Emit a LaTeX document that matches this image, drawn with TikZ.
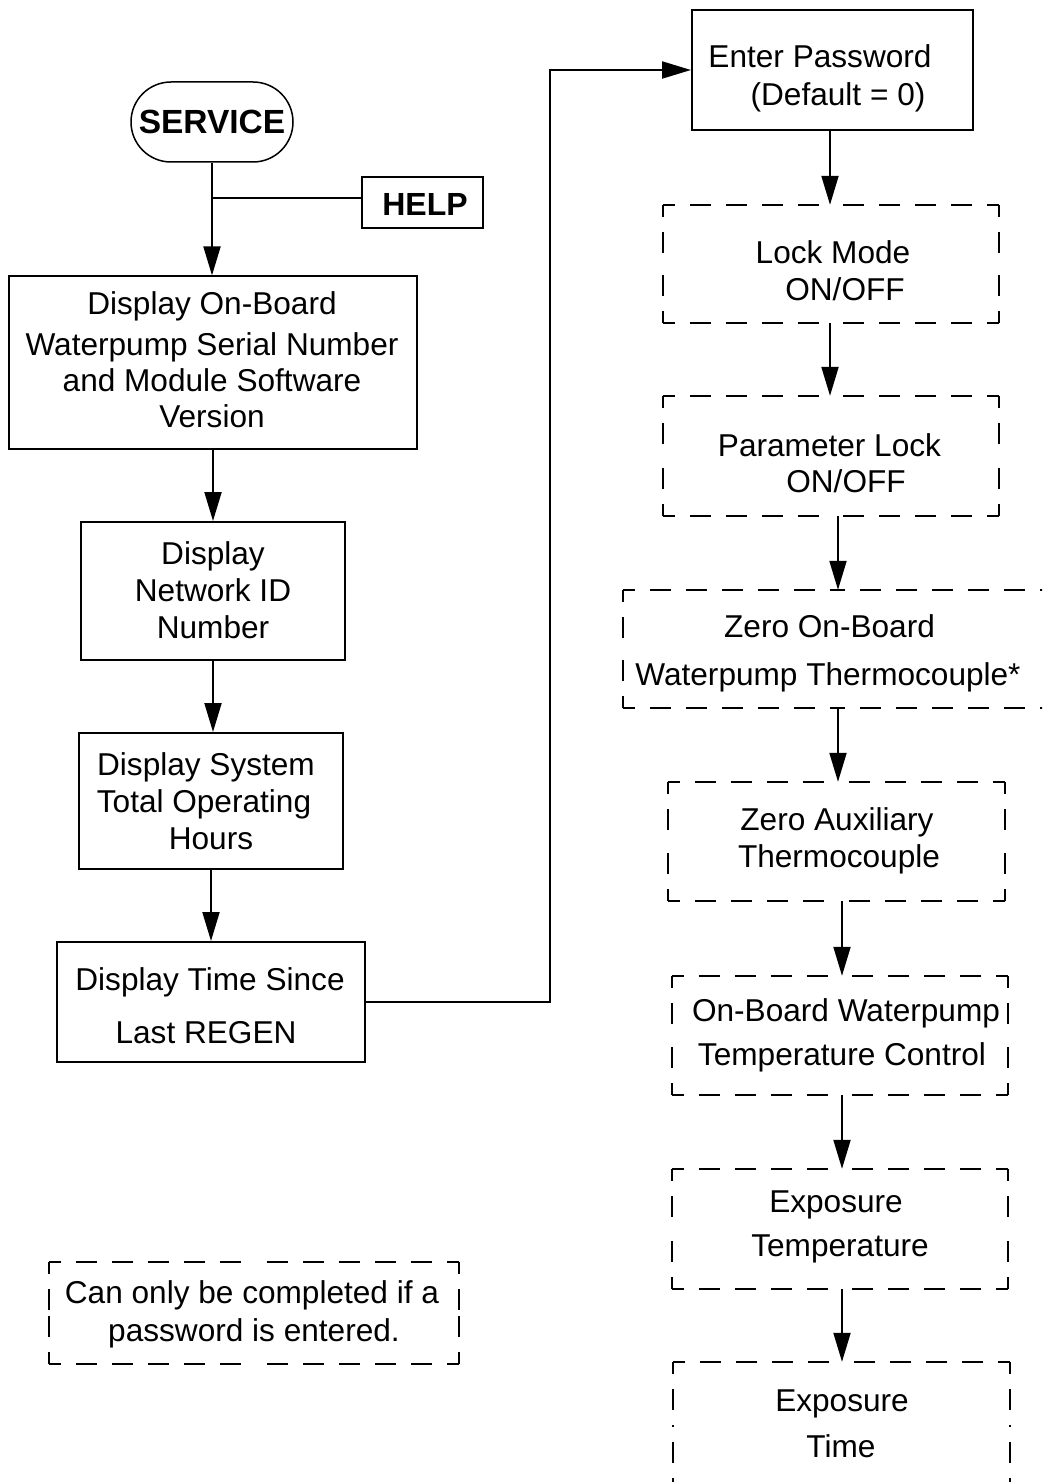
\documentclass[tikz,border=0pt]{standalone}
\usepackage{fontspec}
\setmainfont{Liberation Sans}
\usetikzlibrary{arrows.meta,calc}
\tikzset{
  solidbox/.style={draw, line width=2pt, inner sep=0pt},
  thinbox/.style={draw, line width=1.2pt, inner sep=0pt},
  ghost/.style={draw=none, inner sep=0pt},
  dsh/.style={line width=2pt, dash pattern=on 21pt off 15pt, dash phase=9pt},
  arr/.style={line width=2pt, -{Triangle[length=29pt,width=17pt]}},
  conn/.style={line width=2pt},
  ln/.style={anchor=base, inner sep=0pt, font=\fontsize{31.6}{37}\selectfont},
  lb/.style={anchor=base, inner sep=0pt, font=\fontsize{32}{38}\selectfont\bfseries},
}
\newcommand\dashedrect[1]{%
  \draw[dsh] (#1.north west) -- (#1.north);
  \draw[dsh] (#1.north east) -- (#1.north);
  \draw[dsh] (#1.south west) -- (#1.south);
  \draw[dsh] (#1.south east) -- (#1.south);
  \draw[dsh] (#1.north west) -- (#1.west);
  \draw[dsh] (#1.south west) -- (#1.west);
  \draw[dsh] (#1.north east) -- (#1.east);
  \draw[dsh] (#1.south east) -- (#1.east);
}
\begin{document}
\begin{tikzpicture}[x=1pt,y=-1pt]
\useasboundingbox (0,0) rectangle (1042,1482);
\clip (0,0) rectangle (1042,1482);
\fill[white] (0,0) rectangle (1042,1482);

% left column boxes
\node[draw, line width=1.5pt, rounded corners=40pt, minimum width=162pt, minimum height=80pt, inner sep=0pt] (service) at (212,122) {};
\node[solidbox, minimum width=121pt, minimum height=51pt] (help) at (422.5,202.5) {};
\node[thinbox, minimum width=408pt, minimum height=173pt] (dob) at (213,362.5) {};
\node[solidbox, minimum width=264pt, minimum height=138pt] (net) at (213,591) {};
\node[solidbox, minimum width=264pt, minimum height=136pt] (sys) at (211,801) {};
\node[solidbox, minimum width=308pt, minimum height=120pt] (time) at (211,1002) {};

% right column boxes
\node[solidbox, minimum width=281pt, minimum height=120pt] (enter) at (832.5,70) {};
\node[ghost, minimum width=336pt, minimum height=118pt] (lock) at (831,264) {};
\node[ghost, minimum width=336pt, minimum height=120pt] (param) at (831,456) {};
\node[ghost, minimum width=429pt, minimum height=118pt] (zob) at (837.5,649) {};
\node[ghost, minimum width=337pt, minimum height=119pt] (zaux) at (836.5,841.5) {};
\node[ghost, minimum width=336pt, minimum height=119pt] (obw) at (840,1035.5) {};
\node[ghost, minimum width=336pt, minimum height=120pt] (expt) at (840,1229) {};
\node[ghost, minimum width=337pt, minimum height=128pt] (exptime) at (841.5,1426) {};
\node[ghost, minimum width=410pt, minimum height=102pt] (note) at (254,1313) {};

\dashedrect{lock}
\dashedrect{param}
\dashedrect{zob}
\dashedrect{zaux}
\dashedrect{obw}
\dashedrect{expt}
\dashedrect{exptime}
\dashedrect{note}

% texts
\node[lb, font=\fontsize{33.5}{38}\selectfont\bfseries] (tservice) at (212,133.5) {SERVICE};
\node[lb] (thelp) at (425,215) {HELP};
\node[ln] (tdob1) at (212,314) {Display On-Board};
\node[ln] (tdob2) at (212,355) {Waterpump Serial Number};
\node[ln] (tdob3) at (212,391) {and Module Software};
\node[ln] (tdob4) at (212,427) {Version};
\node[ln] (tnet1) at (213,564) {Display};
\node[ln] (tnet2) at (213,601) {Network ID};
\node[ln] (tnet3) at (213,638) {Number};
\node[ln] (tsys1) at (206,775) {Display System};
\node[ln] (tsys2) at (204,812) {Total Operating};
\node[ln] (tsys3) at (211,849) {Hours};
\node[ln] (ttime1) at (210,990) {Display Time Since};
\node[ln] (ttime2) at (206,1043) {Last REGEN};
\node[ln] (tenter1) at (820,68) {Enter Password};
\node[ln] (tenter2) at (838,106) {(Default = 0)};
\node[ln] (tlock1) at (833,263) {Lock Mode};
\node[ln] (tlock2) at (845,300) {ON/OFF};
\node[ln] (tparam1) at (829.5,456) {Parameter Lock};
\node[ln] (tparam2) at (846,492) {ON/OFF};
\node[ln] (tzob1) at (829.5,637) {Zero On-Board};
\node[ln] (tzob2) at (828,685) {Waterpump Thermocouple*};
\node[ln] (tzaux1) at (837,830) {Zero Auxiliary};
\node[ln] (tzaux2) at (839,867) {Thermocouple};
\node[ln] (tobw1) at (846,1021) {On-Board Waterpump};
\node[ln] (tobw2) at (842,1065) {Temperature Control};
\node[ln] (texpt1) at (836,1212) {Exposure};
\node[ln] (texpt2) at (840,1256) {Temperature};
\node[ln] (texptime1) at (842,1411) {Exposure};
\node[ln] (texptime2) at (841,1457) {Time};
\node[ln] (tnote1) at (252,1303) {Can only be completed if a};
\node[ln] (tnote2) at (254,1341) {password is entered.};

% connectors
\coordinate (branch) at (212,198);
\coordinate (turn) at (550,70);
\draw[arr] (service.south) -- (service.south |- dob.north);
\draw[conn] (service.south |- branch) -- (branch -| help.west);
\draw[arr] (dob.south) -- (dob.south |- net.north);
\draw[arr] (net.south) -- (net.south |- sys.north);
\draw[arr] (sys.south) -- (sys.south |- time.north);
\draw[arr] (time.east) -| (turn) -- (enter.west);
\draw[arr] ([xshift=-2.5pt]enter.south) -- ([xshift=-2.5pt]enter.south |- lock.north);
\draw[arr] ([xshift=-1pt]lock.south) -- ([xshift=-1pt]lock.south |- param.north);
\draw[arr] ([xshift=7pt]param.south) -- ([xshift=7pt]param.south |- zob.north);
\draw[arr] ([xshift=0.5pt]zob.south) -- ([xshift=0.5pt]zob.south |- zaux.north);
\draw[arr] ([xshift=5.5pt]zaux.south) -- ([xshift=5.5pt]zaux.south |- obw.north);
\draw[arr] ([xshift=2pt]obw.south) -- ([xshift=2pt]obw.south |- expt.north);
\draw[arr] ([xshift=2pt]expt.south) -- ([xshift=2pt]expt.south |- exptime.north);
\end{tikzpicture}
\end{document}
